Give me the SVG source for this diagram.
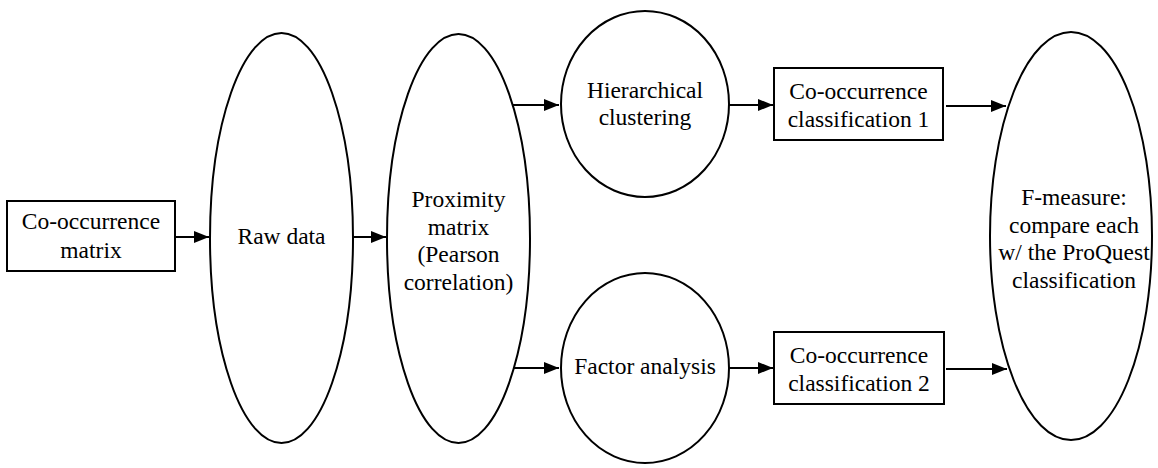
<svg xmlns="http://www.w3.org/2000/svg" width="1158" height="468" viewBox="0 0 1158 468">
<style>
.s{fill:#fff;stroke:#000;stroke-width:2}
.t{font-family:"Liberation Serif","Times New Roman",serif;font-size:23.5px;fill:#000;text-anchor:middle}
.c{stroke:#000;stroke-width:2;fill:none;marker-end:url(#ah)}
</style>
<defs>
<marker id="ah" viewBox="0 0 15 12" refX="15" refY="6" markerWidth="15" markerHeight="12" markerUnits="userSpaceOnUse" orient="auto">
<path d="M0,0 L15,6 L0,12 Z" fill="#000"/>
</marker>
</defs>
<g id="connectors">
<line class="c" x1="175" y1="237" x2="209" y2="237"/>
<line class="c" x1="353" y1="237" x2="386" y2="237"/>
<line class="c" x1="513" y1="105" x2="559" y2="105"/>
<line class="c" x1="513" y1="368" x2="559" y2="368"/>
<line class="c" x1="729" y1="105" x2="773" y2="105"/>
<line class="c" x1="729" y1="368" x2="773" y2="368"/>
<line class="c" x1="946" y1="106" x2="1006" y2="106"/>
<line class="c" x1="946" y1="369" x2="1007" y2="369"/>
</g>
<g id="cooc-matrix">
<rect class="s" x="7" y="201" width="168" height="70"/>
<text class="t" x="91" y="229">Co-occurrence</text>
<text class="t" x="91" y="258">matrix</text>
</g>
<g id="raw-data">
<ellipse class="s" cx="281.5" cy="238" rx="71.5" ry="205"/>
<text class="t" x="281.5" y="244">Raw data</text>
</g>
<g id="proximity">
<ellipse class="s" cx="458.5" cy="238.5" rx="71.5" ry="204.5"/>
<text class="t" x="458.5" y="207">Proximity</text>
<text class="t" x="458.5" y="234.5">matrix</text>
<text class="t" x="458.5" y="262">(Pearson</text>
<text class="t" x="458.5" y="289.5">correlation)</text>
</g>
<g id="hierarchical">
<ellipse class="s" cx="645" cy="104" rx="84" ry="93"/>
<text class="t" x="645" y="98">Hierarchical</text>
<text class="t" x="645" y="125">clustering</text>
</g>
<g id="factor">
<ellipse class="s" cx="645" cy="368" rx="84" ry="95"/>
<text class="t" x="645" y="374">Factor analysis</text>
</g>
<g id="class1">
<rect class="s" x="774" y="68" width="169" height="72"/>
<text class="t" x="858.5" y="99">Co-occurrence</text>
<text class="t" x="858.5" y="127">classification 1</text>
</g>
<g id="class2">
<rect class="s" x="774" y="332" width="170" height="72"/>
<text class="t" x="859" y="363">Co-occurrence</text>
<text class="t" x="859" y="391">classification 2</text>
</g>
<g id="fmeasure">
<ellipse class="s" cx="1071" cy="236" rx="81" ry="204"/>
<text class="t" x="1074" y="205">F-measure:</text>
<text class="t" x="1074" y="232.5">compare each</text>
<text class="t" x="1074" y="260">w/ the ProQuest</text>
<text class="t" x="1074" y="287.5">classification</text>
</g>
</svg>
